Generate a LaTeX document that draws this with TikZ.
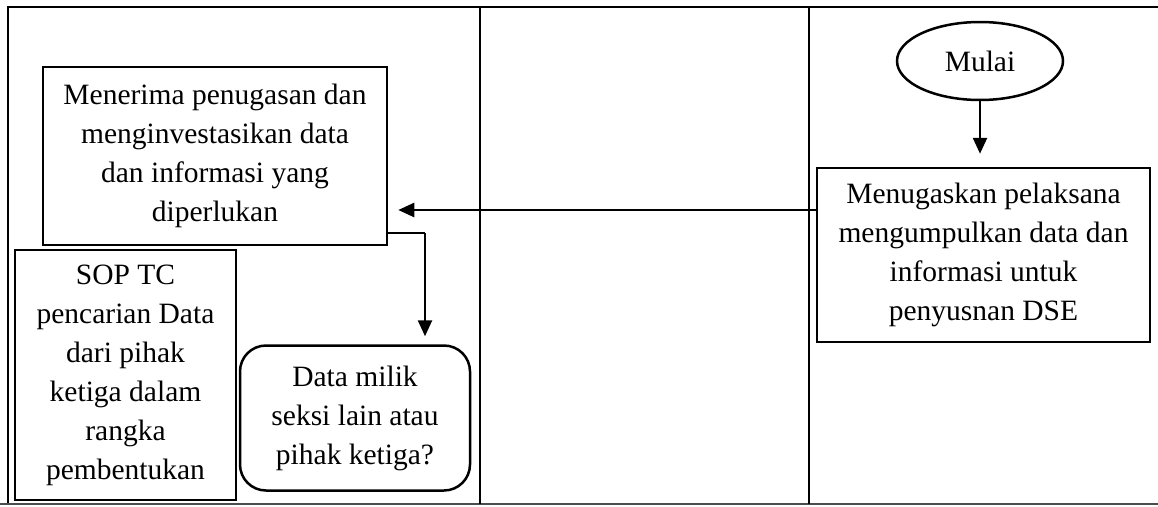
\documentclass[tikz,border=0pt]{standalone}
\usepackage{fontspec}
\setmainfont{Liberation Serif}
\usetikzlibrary{shapes.geometric,arrows.meta}
\begin{document}
\begin{tikzpicture}[x=1pt,y=-1pt,
  txt/.style={font=\fontsize{29.5}{39}\selectfont, align=center, inner sep=0pt},
  box/.style={txt, draw, line width=2.5pt, rectangle},
  rbox/.style={box, rounded corners=26pt},
  oval/.style={txt, draw, line width=2.5pt, ellipse},
  arr/.style={line width=2.5pt, -{Triangle[length=16pt,width=14pt]}}]
\useasboundingbox (0,0) rectangle (1158,506);
% frame
\draw[line width=1.2pt] (7,7) -- (1158,7);
\draw[line width=2.5pt] (8,7) -- (8,504);
\draw[line width=1.2pt, black!70] (0,504) -- (1158,504);
\draw[line width=2pt] (480,7) -- (480,504);
\draw[line width=2pt] (809,7) -- (809,504);
% nodes
\node[box, minimum width=344pt, minimum height=178pt] (menerima) at (215,156)
  {Menerima penugasan dan\\menginvestasikan data\\dan informasi yang\\diperlukan};
\node[box, minimum width=221pt, minimum height=250pt] (sop) at (125.5,375)
  {SOP TC\\pencarian Data\\dari pihak\\ketiga dalam\\rangka\\pembentukan};
\node[rbox, minimum width=230pt, minimum height=145pt] (data) at (355,418)
  {Data milik\\seksi lain atau\\pihak ketiga?};
\node[oval, minimum width=166pt, minimum height=78pt] (mulai) at (980,61) {Mulai};
\node[box, minimum width=333pt, minimum height=174pt] (menugaskan) at (983.5,255)
  {Menugaskan pelaksana\\mengumpulkan data dan\\informasi untuk\\penyusnan DSE};
% connectors
\draw[arr, shorten >=13pt] (mulai.south) -- (mulai.south |- menugaskan.north);
\draw[arr, shorten >=10pt] (menugaskan.west |- 0,210) -- (menerima.east |- 0,210);
\draw[line width=1.5pt] (menerima.east |- 0,233) -- (425,233);
\draw[arr, shorten >=8pt] (425,233) -- ([xshift=70pt]data.north);
\end{tikzpicture}
\end{document}
